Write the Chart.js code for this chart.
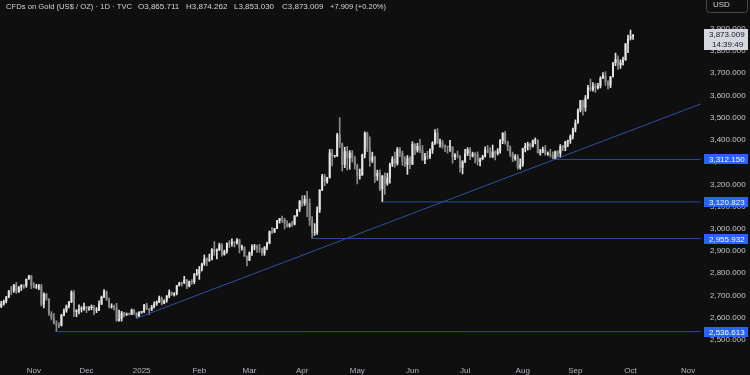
<!DOCTYPE html>
<html><head><meta charset="utf-8">
<script src="https://cdn.jsdelivr.net/npm/chart.js@4.4.1/dist/chart.umd.min.js"></script>
<style>html,body{margin:0;padding:0;background:#0f0f0f;}canvas{display:block}</style>
</head><body>
<canvas id="c" width="750" height="375"></canvas>
<script>
// ---- daily candles [open, high, low, close] (weekdays) ----
const oct2024 = [[2649,2673,2645,2662],[2662,2679,2656,2674],[2674,2696,2666,2692],[2692,2722,2689,2721],[2721,2740,2704,2720],[2720,2749,2713,2748],[2748,2758,2709,2715],[2715,2740,2713,2736],[2736,2748,2722,2747],[2747,2748,2731,2743],[2743,2774,2736,2774],[2774,2790,2772,2788],[2788,2790,2730,2743]];
const nov2024 = [[2743,2758,2733,2736],[2736,2750,2731,2736],[2736,2750,2726,2743],[2743,2750,2652,2659],[2659,2711,2643,2706],[2706,2709,2678,2685],[2685,2686,2610,2618],[2618,2627,2589,2598],[2598,2618,2572,2572],[2572,2586,2537,2565],[2565,2578,2555,2563],[2563,2615,2562,2611],[2611,2639,2607,2631],[2631,2657,2624,2651],[2651,2673,2643,2670],[2670,2721,2667,2715],[2712,2722,2605,2625],[2625,2636,2604,2633],[2633,2657,2617,2638],[2638,2649,2625,2639],[2639,2665,2632,2650]];
const dec2024 = [[2650,2651,2622,2640],[2640,2649,2632,2643],[2643,2657,2635,2650],[2650,2655,2613,2632],[2632,2645,2622,2633],[2633,2675,2631,2660],[2660,2697,2658,2694],[2694,2726,2690,2718],[2718,2720,2677,2680],[2680,2689,2644,2648],[2648,2662,2642,2652],[2652,2656,2633,2646],[2646,2664,2583,2586],[2586,2634,2584,2594],[2594,2628,2584,2622],[2622,2624,2603,2612],[2612,2621,2609,2617],[2617,2620,2612,2613],[2613,2639,2613,2634],[2634,2637,2614,2621],[2621,2622,2597,2606],[2606,2627,2603,2624]];
const jan2025 = [[2624,2628,2619,2625],[2625,2660,2622,2658],[2658,2665,2635,2640],[2640,2642,2614,2636],[2636,2655,2631,2648],[2648,2671,2643,2662],[2662,2675,2655,2670],[2670,2697,2667,2689],[2689,2693,2656,2663],[2663,2680,2662,2677],[2677,2700,2669,2697],[2697,2725,2689,2715],[2715,2716,2700,2703],[2703,2712,2697,2708],[2708,2745,2702,2745],[2745,2759,2742,2755],[2755,2759,2742,2754],[2754,2786,2753,2771],[2771,2772,2730,2740],[2740,2765,2738,2763],[2763,2771,2750,2760],[2760,2799,2752,2795],[2795,2817,2790,2798]];
const feb2025 = [[2798,2830,2772,2815],[2815,2845,2810,2842],[2842,2882,2835,2866],[2866,2869,2834,2856],[2856,2886,2853,2861],[2861,2911,2860,2907],[2907,2942,2880,2898],[2898,2909,2864,2904],[2904,2935,2902,2928],[2928,2933,2877,2883],[2883,2904,2881,2898],[2898,2937,2890,2935],[2935,2947,2915,2933],[2933,2955,2922,2939],[2939,2943,2918,2936],[2936,2956,2930,2951],[2951,2953,2891,2915],[2915,2927,2903,2916],[2916,2919,2875,2875],[2875,2878,2833,2857]];
const mar2025 = [[2857,2896,2856,2893],[2893,2928,2880,2918],[2918,2930,2905,2920],[2920,2927,2893,2911],[2911,2930,2894,2910],[2910,2913,2880,2889],[2889,2920,2880,2916],[2916,2940,2906,2934],[2934,2990,2932,2988],[2988,3005,2978,2984],[2984,3002,2982,3001],[3001,3038,3000,3035],[3035,3047,3025,3047],[3047,3057,3028,3044],[3044,3048,2999,3023],[3023,3037,3007,3011],[3011,3025,3007,3020],[3020,3033,3011,3019],[3019,3060,3017,3058],[3058,3087,3055,3085],[3085,3128,3077,3124]];
const apr2025 = [[3124,3149,3101,3113],[3113,3149,3105,3134],[3134,3168,3054,3114],[3114,3135,3015,3037],[3037,3055,2957,2982],[2982,3023,2970,2983],[2983,3099,2975,3083],[3083,3176,3073,3175],[3175,3245,3172,3237],[3237,3245,3194,3211],[3211,3232,3205,3230],[3230,3357,3228,3343],[3343,3358,3283,3327],[3327,3330,3322,3327],[3327,3430,3325,3424],[3424,3500,3366,3381],[3381,3386,3260,3288],[3288,3367,3275,3349],[3349,3371,3265,3319],[3319,3352,3268,3343],[3343,3352,3300,3317],[3317,3327,3268,3288]];
const may2025 = [[3288,3291,3202,3239],[3239,3269,3223,3241],[3241,3336,3240,3333],[3333,3437,3319,3431],[3431,3435,3347,3365],[3365,3414,3281,3306],[3306,3345,3298,3325],[3325,3327,3208,3236],[3236,3264,3218,3251],[3251,3265,3171,3178],[3178,3240,3121,3239],[3239,3252,3154,3203],[3203,3250,3196,3229],[3229,3296,3205,3290],[3290,3325,3280,3315],[3315,3345,3277,3294],[3294,3366,3287,3358],[3358,3365,3325,3341],[3341,3350,3285,3302],[3302,3325,3280,3288],[3288,3330,3245,3318],[3318,3325,3271,3289]];
const jun2025 = [[3289,3392,3289,3381],[3381,3383,3334,3353],[3353,3385,3345,3373],[3373,3403,3342,3353],[3353,3375,3307,3310],[3310,3340,3293,3326],[3326,3349,3313,3323],[3323,3360,3316,3355],[3355,3392,3339,3386],[3386,3446,3380,3433],[3433,3451,3382,3385],[3385,3404,3367,3389],[3389,3398,3362,3370],[3370,3378,3347,3369],[3369,3372,3340,3368],[3368,3398,3348,3368],[3368,3370,3295,3323],[3323,3339,3311,3333],[3333,3350,3318,3328],[3328,3330,3255,3274],[3274,3307,3247,3303]];
const jul2025 = [[3303,3358,3298,3338],[3338,3365,3329,3357],[3357,3366,3311,3326],[3326,3345,3323,3337],[3337,3343,3296,3335],[3335,3346,3287,3302],[3302,3318,3283,3313],[3313,3331,3310,3325],[3325,3369,3322,3355],[3355,3375,3342,3343],[3343,3366,3320,3324],[3324,3377,3320,3347],[3347,3351,3310,3339],[3339,3361,3332,3349],[3349,3402,3340,3397],[3397,3433,3383,3431],[3431,3439,3381,3387],[3387,3394,3351,3368],[3368,3373,3325,3337],[3337,3345,3302,3314],[3314,3334,3308,3326],[3326,3334,3268,3275],[3275,3315,3268,3289]];
const aug2025 = [[3289,3363,3281,3362],[3362,3385,3346,3373],[3373,3390,3354,3380],[3380,3385,3357,3368],[3368,3400,3368,3397],[3397,3409,3382,3398],[3398,3401,3340,3342],[3342,3358,3331,3348],[3348,3368,3342,3356],[3356,3375,3331,3336],[3336,3346,3330,3336],[3336,3358,3323,3332],[3332,3346,3315,3315],[3315,3350,3311,3348],[3348,3352,3325,3339],[3339,3379,3321,3371],[3371,3376,3351,3365],[3365,3394,3351,3393],[3393,3399,3370,3397],[3397,3423,3384,3417],[3417,3453,3404,3448]];
const sep2025 = [[3448,3490,3436,3476],[3476,3540,3474,3533],[3533,3578,3526,3578],[3578,3579,3511,3545],[3545,3600,3529,3587],[3587,3646,3585,3636],[3636,3674,3620,3626],[3626,3658,3620,3641],[3641,3653,3614,3634],[3634,3655,3628,3643],[3643,3685,3634,3679],[3679,3703,3676,3690],[3690,3707,3645,3660],[3660,3667,3628,3644],[3644,3686,3635,3685],[3685,3749,3682,3746],[3746,3791,3734,3764],[3764,3779,3717,3736],[3736,3761,3722,3749],[3749,3773,3737,3760],[3760,3834,3758,3834],[3834,3872,3793,3858]];
const lastBar = [3865.711, 3874.262, 3853.030, 3873.009];
const oct2025 = [[3858,3895,3850,3866], lastBar];
const lastChange = '+7.909 (+0.20%)';
const countdown = '14:39:49';

const firstDay = '2024-10-15';
const lastAxisDay = '2025-11-10';

// month tick labels
const monthTicks = [['2024-11-01','Nov'],['2024-12-02','Dec'],['2025-01-01','2025'],['2025-02-03','Feb'],['2025-03-03','Mar'],['2025-04-01','Apr'],['2025-05-01','May'],['2025-06-02','Jun'],['2025-07-01','Jul'],['2025-08-01','Aug'],['2025-09-01','Sep'],['2025-10-01','Oct'],['2025-11-03','Nov']];
const priceTicks = [2500,2600,2700,2800,2900,3000,3100,3200,3300,3400,3500,3600,3700,3800,3900];

// drawn levels and trend line
const levelValues = [2536.613, 2955.932, 3120.823, 3312.150];
const levelStarts = ['2024-11-14','2025-04-07','2025-05-15','2025-08-20'];
const trendPoints = [['2024-12-30', 2597], ['2025-11-10', 3562]];

// ---- build ----
const candles = [].concat(oct2024,nov2024,dec2024,jan2025,feb2025,mar2025,apr2025,may2025,jun2025,jul2025,aug2025,sep2025,oct2025);
const labels = [];
{
  const d = new Date(firstDay + 'T00:00:00Z'), end = new Date(lastAxisDay + 'T00:00:00Z');
  while (d <= end) {
    const wd = d.getUTCDay();
    if (wd !== 0 && wd !== 6) labels.push(d.toISOString().slice(0,10));
    d.setUTCDate(d.getUTCDate() + 1);
  }
}
const BG = '#0f0f10';
const UP = '#e4e4e4', DOWN = '#8a8a8a';
const fmt = v => v.toLocaleString('en-US',{minimumFractionDigits:3, maximumFractionDigits:3});
const candleColor = ctx => { const k = candles[ctx.dataIndex]; return (k && k[3] >= k[0]) ? UP : DOWN; };
const FONT = '"Liberation Sans", Arial, sans-serif';

const lineDs = (pts, col) => ({ type:'line', data: pts.map(p=>({x:p[0], y:p[1]})), borderColor: col, borderWidth: 1, pointRadius: 0, fill:false, order: 0, tension: 0 });

const datasets = [
  { label:'wick', data: candles.map(k=>[k[2],k[1]]), backgroundColor: candleColor, barThickness: 1, grouped:false, order: 2 },
  { label:'body', data: candles.map(k=>[Math.min(k[0],k[3]), Math.max(k[0],k[3])]), backgroundColor: candleColor, barPercentage: 0.8, categoryPercentage: 1, grouped:false, minBarLength: 1, order: 1 },
  lineDs(trendPoints, '#2f4f9f'),
  ...levelValues.map((v,i)=>lineDs([[levelStarts[i], v],[lastAxisDay, v]], '#2b4a9c'))
];

function fitText(c, t, x, y, maxW) {
  const w = c.measureText(t).width;
  if (w <= maxW) { c.fillText(t, x, y); return; }
  c.save(); c.translate(x, y); c.scale(maxW / w, 1); c.fillText(t, 0, 0); c.restore();
}

const overlay = {
  id:'overlay',
  beforeDraw(chart){ const c=chart.ctx; c.save(); c.fillStyle=BG; c.fillRect(0,0,chart.width,chart.height); c.restore(); },
  afterDraw(chart){
    const c = chart.ctx, ys = chart.scales.y;
    c.save();
    c.font = '8px ' + FONT;
    c.textBaseline = 'middle';
    c.fillStyle = '#d1d4dc';
    const parts = [['CFDs on Gold (US$ / OZ) · 1D · TVC',6,126],['O'+fmt(lastBar[0]),138,43],['H'+fmt(lastBar[1]),186,43],['L'+fmt(lastBar[2]),234,43],['C'+fmt(lastBar[3]),282,43],[lastChange,330,56]];
    parts.forEach(([t,x,w])=>fitText(c,t,x,7,w));
    // level labels
    levelValues.forEach(v=>{
      const py = Math.round(ys.getPixelForValue(v));
      c.fillStyle = '#2962ff'; c.fillRect(704, py-5, 44, 10);
      c.fillStyle = '#ffffff'; c.fillText(fmt(v), 709, py+0.5);
    });
    // current price label
    const cy = Math.round(ys.getPixelForValue(lastBar[3]));
    c.fillStyle = '#d6d8de'; c.fillRect(704, cy-6, 44, 21);
    c.fillStyle = '#131722';
    c.fillText(fmt(lastBar[3]), 709, cy);
    c.fillText(countdown, 712, cy+9.5);
    // USD box
    c.strokeStyle = '#434651'; c.lineWidth = 1;
    c.beginPath(); c.roundRect(706.5, -3.5, 41, 16, 3); c.stroke();
    c.fillStyle = '#d1d4dc'; c.fillText('USD', 713, 5);
    c.restore();
  }
};

new Chart(document.getElementById('c'), {
  type: 'bar',
  data: { labels, datasets },
  options: {
    responsive: false, animation: false, devicePixelRatio: 1,
    layout: { padding: 0 },
    plugins: { legend:{display:false}, tooltip:{enabled:false} },
    scales: {
      x: {
        offset: true,
        grid: { display:false, drawTicks:false },
        border: { display:false },
        ticks: {
          autoSkip:false, maxRotation:0, padding: 14, color:'#b2b5be', font:{ size: 8, family: FONT },
          callback: (val) => { const m = monthTicks.find(t=>labels.indexOf(t[0])===val); return m ? m[1] : ''; }
        },
        afterBuildTicks: s => { s.ticks = monthTicks.map(t=>({value: labels.indexOf(t[0])})); },
        afterFit: s => { s.height = 23; s.paddingLeft = 0; s.paddingRight = 0; }
      },
      y: {
        position: 'right', min: 2445, max: 4030,
        grid: { display:false, drawTicks:false },
        border: { display:false },
        ticks: { padding: 8, color:'#c4c6cc', font:{ size: 8, family: FONT }, callback: v => fmt(v) },
        afterBuildTicks: s => { s.ticks = priceTicks.map(v=>({value:v})); },
        afterFit: s => { s.width = 48; s.paddingTop = 0; s.paddingBottom = 0; }
      }
    }
  },
  plugins: [overlay]
});
</script>
</body></html>
